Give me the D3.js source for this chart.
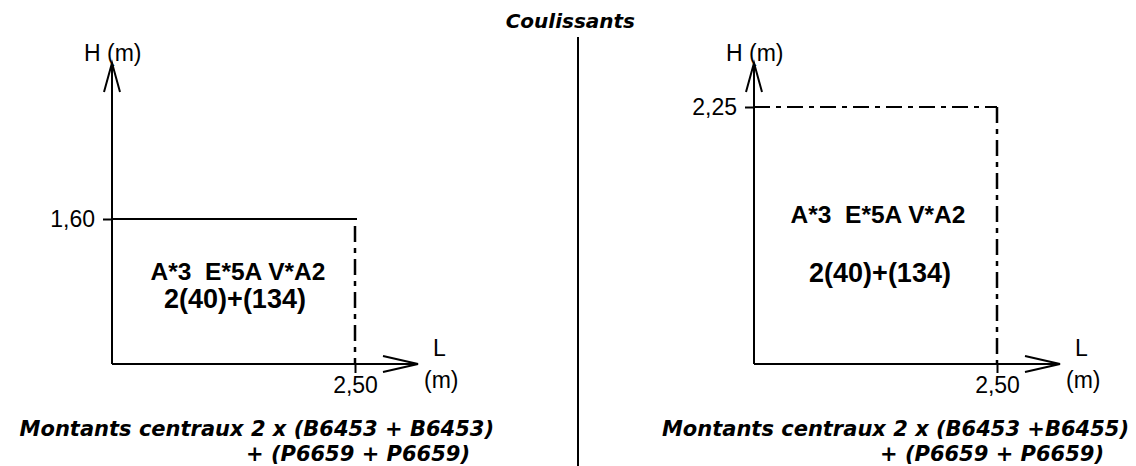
<!DOCTYPE html>
<html>
<head>
<meta charset="utf-8">
<script src="https://cdn.jsdelivr.net/npm/d3@7"></script>
<style>
  html, body { margin: 0; padding: 0; background: #fff; }
  svg { display: block; }
  .lbl { font-family: "Liberation Sans", Arial, sans-serif; font-size: 23px; fill: #000; }
  .bold { font-family: "Liberation Sans", Arial, sans-serif; font-weight: bold; fill: #000; }
  .cap { font-family: "DejaVu Sans", Verdana, sans-serif; font-weight: bold; font-style: italic; fill: #000; }
</style>
</head>
<body>
<script>
// ---- data ----
const panelTitle = "Coulissants";
const widthValues = [2.50, 2.50];
const heightValues = [1.60, 2.25];
const widthTickLabels = ["2,50", "2,50"];
const heightTickLabels = ["1,60", "2,25"];
const glazingLine1 = ["A*3  E*5A V*A2", "A*3  E*5A V*A2"];
const glazingLine2 = ["2(40)+(134)", "2(40)+(134)"];
const captionLine1 = ["Montants centraux 2 x (B6453 + B6453)", "Montants centraux 2 x (B6453 +B6455)"];
const captionLine2 = ["+ (P6659 + P6659)", "+ (P6659 + P6659)"];
const topEdgeSolid = [true, false];

// ---- layout ----
const W = 1136, H = 466;
const layout = {
  originX: [112, 754],
  originY: 364,
  axisTopY: 63,
  axisLen: 306,
  xPx: 243,
  yTopPx: [219, 107],
  g1: [{x: 238, y: 280}, {x: 878, y: 223}],
  g2: [{x: 235, y: 308}, {x: 880, y: 282}],
  c1: [{x: 494, y: 436}, {x: 1129, y: 436}],
  c2: [{x: 470, y: 461}, {x: 1104, y: 461}]
};
const dash = "16,6,5,6";

const svg = d3.select("body").append("svg").attr("width", W).attr("height", H);

// title + divider
svg.append("text").attr("class", "cap").attr("x", 635).attr("y", 28)
  .attr("text-anchor", "end").style("font-size", "20px").text(panelTitle);
svg.append("line").attr("x1", 578).attr("x2", 578).attr("y1", 37).attr("y2", H)
  .attr("stroke", "#000").attr("stroke-width", 2);

widthValues.forEach((wv, i) => {
  const ox = layout.originX[i], oy = layout.originY;
  const hv = heightValues[i];
  const x = d3.scaleLinear().domain([0, wv]).range([ox, ox + layout.xPx]);
  const y = d3.scaleLinear().domain([0, hv]).range([oy, layout.yTopPx[i]]);
  const g = svg.append("g");

  // axes lines with arrows
  g.append("line").attr("x1", x(0)).attr("x2", x(0)).attr("y1", y(0)).attr("y2", layout.axisTopY)
    .attr("stroke", "#000").attr("stroke-width", 2);
  g.append("path").attr("d", `M${x(0) - 8},${layout.axisTopY + 29}L${x(0)},${layout.axisTopY}L${x(0) + 8},${layout.axisTopY + 29}`)
    .attr("fill", "none").attr("stroke", "#000").attr("stroke-width", 2);
  const xEnd = x(0) + layout.axisLen;
  g.append("line").attr("x1", x(0)).attr("x2", xEnd).attr("y1", y(0)).attr("y2", y(0))
    .attr("stroke", "#000").attr("stroke-width", 2);
  g.append("path").attr("d", `M${xEnd - 35},${y(0) - 8}L${xEnd},${y(0)}L${xEnd - 35},${y(0) + 8}`)
    .attr("fill", "none").attr("stroke", "#000").attr("stroke-width", 2);

  // y axis tick
  const ya = g.append("g").attr("transform", `translate(${x(0)},0)`)
    .call(d3.axisLeft(y).tickValues([hv]).tickFormat(() => heightTickLabels[i]).tickSize(9).tickPadding(8));
  ya.select(".domain").remove();
  ya.selectAll("line").attr("stroke", "#000").attr("stroke-width", 2);
  ya.selectAll("text").attr("class", "lbl").attr("font-size", null).attr("font-family", null);

  // x axis tick
  const xa = g.append("g").attr("transform", `translate(0,${y(0)})`)
    .call(d3.axisBottom(x).tickValues([wv]).tickFormat(() => widthTickLabels[i]).tickSize(9).tickPadding(4));
  xa.select(".domain").remove();
  xa.selectAll("line").attr("stroke", "#000").attr("stroke-width", 2);
  xa.selectAll("text").attr("class", "lbl").attr("font-size", null).attr("font-family", null);

  // frame: top edge and right edge
  g.append("line").attr("x1", x(0)).attr("x2", topEdgeSolid[i] ? x(wv) + 2 : x(wv))
    .attr("y1", y(hv)).attr("y2", y(hv))
    .attr("stroke", "#000").attr("stroke-width", 2)
    .attr("stroke-dasharray", topEdgeSolid[i] ? null : dash);
  g.append("line").attr("x1", x(wv)).attr("x2", x(wv))
    .attr("y1", topEdgeSolid[i] ? y(hv) + 7 : y(hv)).attr("y2", y(0))
    .attr("stroke", "#000").attr("stroke-width", 2.5)
    .attr("stroke-dasharray", dash);

  // axis labels
  g.append("text").attr("class", "lbl").attr("x", x(0) - 28).attr("y", 61).text("H (m)");
  g.append("text").attr("class", "lbl").attr("x", x(0) + 321).attr("y", 356).text("L");
  g.append("text").attr("class", "lbl").attr("x", x(0) + 312).attr("y", 388).text("(m)");

  // glazing labels
  const l1 = layout.g1[i], l2 = layout.g2[i];
  g.append("text").attr("class", "bold").style("font-size", "24.5px").attr("x", l1.x).attr("y", l1.y)
    .attr("text-anchor", "middle").style("white-space", "pre").attr("xml:space", "preserve")
    .text(glazingLine1[i]);
  g.append("text").attr("class", "bold").style("font-size", "27px").attr("x", l2.x).attr("y", l2.y)
    .attr("text-anchor", "middle").text(glazingLine2[i]);

  // captions
  g.append("text").attr("class", "cap").style("font-size", "21px")
    .attr("x", layout.c1[i].x).attr("y", layout.c1[i].y).attr("text-anchor", "end").text(captionLine1[i]);
  g.append("text").attr("class", "cap").style("font-size", "21px")
    .attr("x", layout.c2[i].x).attr("y", layout.c2[i].y).attr("text-anchor", "end").text(captionLine2[i]);
});
</script>
</body>
</html>
